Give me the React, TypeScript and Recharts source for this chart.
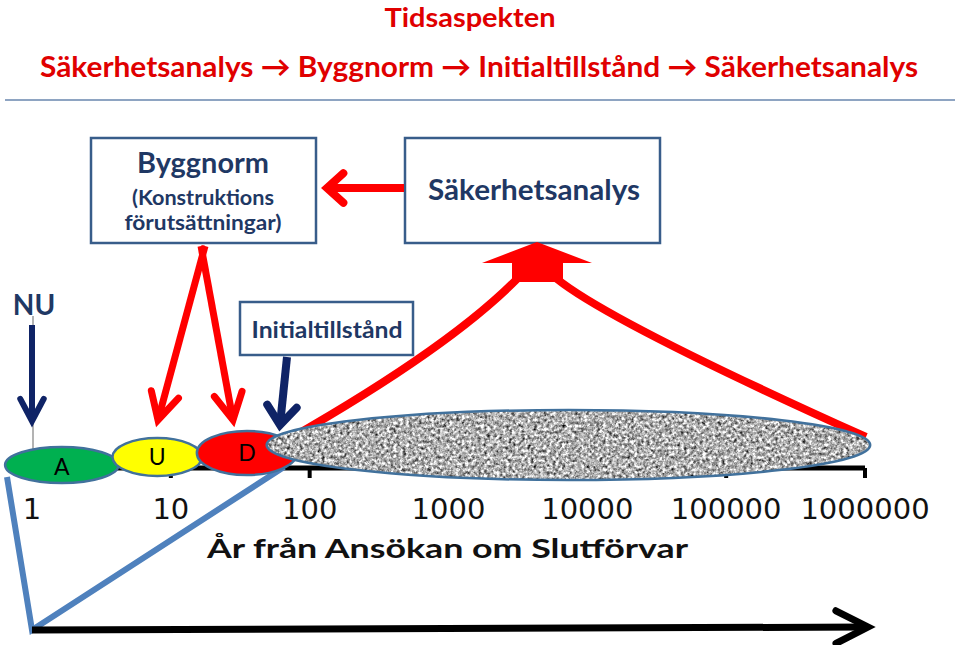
import { ComposedChart, XAxis, YAxis, ReferenceArea, Customized } from 'recharts';

// time axis (years from application), log scale
const years = [1, 10, 100, 1000, 10000, 100000, 1000000];

// phases drawn as ellipses along the time axis
const phaseLabels = ['A', 'U', 'D', ''];
const phaseStart = [0.64, 3.8, 15.4, 49];
const phaseEnd = [4.2, 16.8, 81, 1090000];

const title = 'Tidsaspekten';
const subtitle = 'Säkerhetsanalys  → Byggnorm → Initialtillstånd → Säkerhetsanalys';
const axisTitle = 'År från Ansökan om Slutförvar';

// look of each phase (not data)
const phaseStyle = [
  { fill: '#00B050', lift: 3, half: 18 },
  { fill: '#FFFF00', lift: 11, half: 19 },
  { fill: '#FF0000', lift: 15, half: 22 },
  { fill: '#b0b0b0', lift: 23, half: 35 },
];

const W = 960;
const H = 645;
const NAVY = '#1F3864';
const RED = '#FF0000';
const BORDER = '#385D8A';
const MARGIN_L = 32;
const MARGIN_R = 95;
const AXIS_Y = 468;

const chevron = (x1, y1, x2, y2, len, deg) => {
  const a = Math.atan2(y2 - y1, x2 - x1);
  const b = (deg * Math.PI) / 180;
  const p1 = [x2 - len * Math.cos(a - b), y2 - len * Math.sin(a - b)];
  const p2 = [x2 - len * Math.cos(a + b), y2 - len * Math.sin(a + b)];
  return `${p1[0]},${p1[1]} ${x2},${y2} ${p2[0]},${p2[1]}`;
};

const Arrow = ({ x1, y1, x2, y2, color, width, len = 24, deg = 32 }) => (
  <g>
    <line x1={x1} y1={y1} x2={x2} y2={y2} stroke={color} strokeWidth={width} />
    <polyline
      points={chevron(x1, y1, x2, y2, len, deg)}
      fill="none"
      stroke={color}
      strokeWidth={width}
      strokeLinecap="round"
      strokeLinejoin="miter"
    />
  </g>
);

const PhaseShape = (props) => {
  const { x, y, width, height, index } = props;
  const st = phaseStyle[index];
  const cx = x + width / 2;
  const cy = y + height / 2;
  const isGrey = index === 3;
  return (
    <g>
      {isGrey && (
        <defs>
          <filter id="granite-noise" x="0" y="0" width="100%" height="100%" colorInterpolationFilters="sRGB">
            <feTurbulence type="fractalNoise" baseFrequency="0.32" numOctaves="3" seed="7" result="n" />
            <feColorMatrix
              in="n"
              type="matrix"
              values="0.33 0.33 0.33 0 0  0.33 0.33 0.33 0 0  0.33 0.33 0.33 0 0  0 0 0 0 1"
              result="g"
            />
            <feComponentTransfer in="g" result="c">
              <feFuncR type="linear" slope="2.6" intercept="-0.6" />
              <feFuncG type="linear" slope="2.6" intercept="-0.6" />
              <feFuncB type="linear" slope="2.6" intercept="-0.6" />
            </feComponentTransfer>
            <feComposite in="c" in2="SourceGraphic" operator="in" />
          </filter>
        </defs>
      )}
      <ellipse
        cx={cx}
        cy={cy}
        rx={width / 2}
        ry={height / 2}
        fill={st.fill}
        filter={isGrey ? 'url(#granite-noise)' : undefined}
      />
      <ellipse cx={cx} cy={cy} rx={width / 2} ry={height / 2} fill="none" stroke="#41719C" strokeWidth={2.5} />
      {phaseLabels[index] && (
        <text
          x={cx}
          y={cy + 8 + (index === 0 ? 2 : 0)}
          textAnchor="middle"
          fontFamily="Lato, sans-serif"
          fontSize={23}
          fill="#000"
        >
          {phaseLabels[index]}
        </text>
      )}
    </g>
  );
};

const Overlay = () => (
  <g>
    {/* titles */}
    <text x={470} y={27} textAnchor="middle" textLength={171} lengthAdjust="spacingAndGlyphs" fontFamily="Lato, sans-serif" fontWeight="bold" fontSize={27} fill="#E00000">
      {title}
    </text>
    <text
      x={40}
      y={77}
      textLength={878}
      lengthAdjust="spacingAndGlyphs"
      fontFamily="Lato, sans-serif"
      fontWeight="bold"
      fontSize={29}
      fill="#E00000"
    >
      {subtitle}
    </text>
    <line x1={5} y1={100} x2={955} y2={100} stroke="#8EA4C2" strokeWidth={2} />

    {/* boxes */}
    <rect x={91} y={138} width={225} height={105} fill="#fff" stroke={BORDER} strokeWidth={2.5} />
    <text x={203} y={173} textAnchor="middle" textLength={132} lengthAdjust="spacingAndGlyphs" fontFamily="Lato, sans-serif" fontWeight="bold" fontSize={29} fill={NAVY}>
      Byggnorm
    </text>
    <text x={203} y={205} textAnchor="middle" textLength={142} lengthAdjust="spacingAndGlyphs" fontFamily="Lato, sans-serif" fontWeight="bold" fontSize={21} fill={NAVY}>
      (Konstruktions
    </text>
    <text x={203} y={230} textAnchor="middle" textLength={157} lengthAdjust="spacingAndGlyphs" fontFamily="Lato, sans-serif" fontWeight="bold" fontSize={21} fill={NAVY}>
      förutsättningar)
    </text>

    <rect x={405} y={138} width={255} height={105} fill="#fff" stroke={BORDER} strokeWidth={2.5} />
    <text x={534} y={200} textAnchor="middle" textLength={212} lengthAdjust="spacingAndGlyphs" fontFamily="Lato, sans-serif" fontWeight="bold" fontSize={28} fill={NAVY}>
      Säkerhetsanalys
    </text>

    <rect x={240} y={302} width={173} height={53} fill="#fff" stroke={BORDER} strokeWidth={2.5} />
    <text x={327} y={338} textAnchor="middle" textLength={151} lengthAdjust="spacingAndGlyphs" fontFamily="Lato, sans-serif" fontWeight="bold" fontSize={23} fill={NAVY}>
      Initialtillstånd
    </text>

    {/* NU */}
    <text x={34} y={315} textAnchor="middle" fontFamily="Lato, sans-serif" fontWeight="bold" fontSize={28} fill={NAVY}>
      NU
    </text>
    <line x1={33} y1={316} x2={33} y2={449} stroke="#9a9a9a" strokeWidth={1.5} />
    <Arrow x1={32} y1={325} x2={32} y2={421} color="#0F2366" width={6} len={25} deg={28} />

    {/* red arrows */}
    <Arrow x1={404} y1={188} x2={327} y2={188} color={RED} width={8} len={22} deg={42} />
    <Arrow x1={205} y1={246} x2={158} y2={420} color={RED} width={7} len={30} deg={28} />
    <Arrow x1={201} y1={246} x2={233} y2={420} color={RED} width={7} len={30} deg={28} />

    {/* Initialtillstånd arrow */}
    <Arrow x1={287} y1={357} x2={280} y2={425} color="#0F2366" width={8} len={24} deg={38} />

    {/* red curves to safety analysis */}
    <path d="M 268 451 Q 445 352 517 279" fill="none" stroke={RED} strokeWidth={8} />
    <path d="M 557 279 Q 612 323 866 437" fill="none" stroke={RED} strokeWidth={8} />
    <path d="M 482 263 L 537 242 L 592 263 L 563 263 L 563 282 L 512 282 L 512 263 Z" fill={RED} />

    {/* blue bracket */}
    <polyline points="7,477 32,630 284,467" fill="none" stroke="#4F81BD" strokeWidth={6} strokeLinejoin="miter" />

    {/* black time arrow */}
    <Arrow x1={32} y1={630} x2={868} y2={627} color="#000" width={7} len={36} deg={27} />

    {/* axis title */}
    <text x={207} y={558} textLength={481} lengthAdjust="spacingAndGlyphs" fontFamily="Lato, sans-serif" fontWeight="bold" fontSize={27} fill="#111">
      {axisTitle}
    </text>
  </g>
);

const data = years.map((y) => ({ year: y }));

const layer = { position: 'absolute', left: 0, top: 0 } as const;

export default function App() {
  return (
    <div style={{ position: 'absolute', left: 0, top: 0, width: W, height: H, background: '#fff' }}>
      {/* bottom layer: the time axis */}
      <div style={layer}>
        <ComposedChart width={W} height={H} data={data} margin={{ top: 0, right: MARGIN_R, bottom: H - AXIS_Y - 60, left: MARGIN_L }}>
          <XAxis
            dataKey="year"
            type="number"
            scale="log"
            domain={[1, 1000000]}
            ticks={years}
            allowDataOverflow
            height={60}
            tickFormatter={(v) => String(v)}
            axisLine={{ stroke: '#000', strokeWidth: 5 }}
            tickLine={{ stroke: '#000', strokeWidth: 4 }}
            tickSize={10}
            tickMargin={20}
            tick={{ fontFamily: 'DejaVu Sans, sans-serif', fontSize: 29, fill: '#111' }}
            interval={0}
          />
          <YAxis hide type="number" domain={[0, AXIS_Y]} allowDataOverflow />
        </ComposedChart>
      </div>
      {/* top layer: phases and diagram */}
      <div style={layer}>
        <ComposedChart width={W} height={H} data={data} margin={{ top: 0, right: MARGIN_R, bottom: H - AXIS_Y, left: MARGIN_L }}>
          <XAxis hide dataKey="year" type="number" scale="log" domain={[1, 1000000]} allowDataOverflow />
          <YAxis hide type="number" domain={[0, AXIS_Y]} allowDataOverflow />
          {phaseStart.map((s, i) => (
            <ReferenceArea
              key={i}
              x1={s}
              x2={phaseEnd[i]}
              y1={phaseStyle[i].lift - phaseStyle[i].half}
              y2={phaseStyle[i].lift + phaseStyle[i].half}
              ifOverflow="visible"
              shape={(p) => <PhaseShape {...p} index={i} />}
            />
          ))}
          <Customized component={Overlay} />
        </ComposedChart>
      </div>
    </div>
  );
}
